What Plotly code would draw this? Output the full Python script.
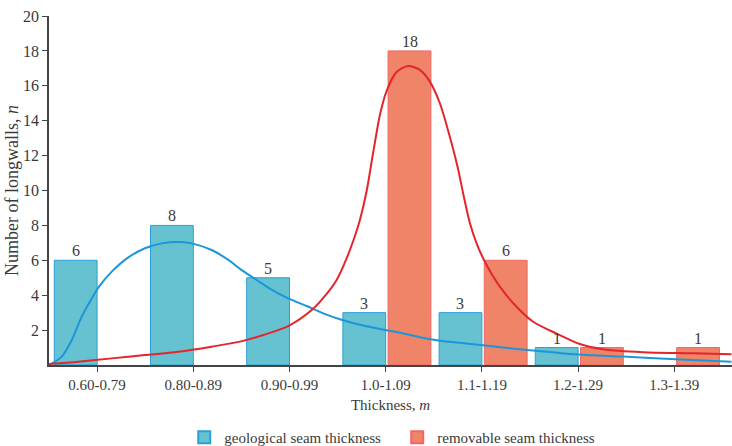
import plotly.graph_objects as go

# Seam thickness classes (m) and number of longwalls in each class
categories = ["0.60-0.79", "0.80-0.89", "0.90-0.99", "1.0-1.09", "1.1-1.19", "1.2-1.29", "1.3-1.39"]
geological_counts = [6, 8, 5, 3, 3, 1, None]
removable_counts = [None, None, None, 18, 6, 1, 1]

# Fitted density curves, sampled along the class axis (class index units)
geo_curve_x = [-0.498, -0.367, -0.263, -0.16, -0.056, 0.02, 0.152, 0.325, 0.498, 0.672, 0.827,
               0.983, 1.19, 1.364, 1.50, 1.659, 1.831, 1.987, 2.178, 2.351, 2.524, 2.698, 2.992,
               3.148, 3.356, 3.564, 3.989, 4.36, 4.71, 5.0, 5.468, 6.015, 6.594]
geo_curve_y = [0.0, 0.48, 1.43, 2.77, 3.81, 4.49, 5.35, 6.17, 6.69, 6.97, 7.05,
               6.97, 6.59, 6.02, 5.45, 4.87, 4.26, 3.82, 3.38, 2.96, 2.62, 2.35, 2.01,
               1.85, 1.59, 1.39, 1.15, 0.92, 0.74, 0.6, 0.48, 0.33, 0.19]

rem_curve_x = [-0.498, -0.195, 0.152, 0.498, 0.844, 1.19, 1.485, 1.727, 1.987, 2.24, 2.386, 2.49,
               2.594, 2.68, 2.732, 2.802, 2.871, 2.94, 3.009, 3.113, 3.234, 3.355, 3.459, 3.563,
               3.667, 3.75, 3.813, 3.875, 3.948, 4.031, 4.187, 4.36, 4.533, 4.776, 5.018, 5.26,
               5.676, 6.195, 6.594]
rem_curve_y = [0.06, 0.19, 0.38, 0.57, 0.76, 1.05, 1.34, 1.72, 2.23, 3.19, 4.07, 4.87,
               6.11, 7.39, 8.31, 9.97, 12.21, 14.33, 15.7, 16.79, 17.13, 16.91, 16.24, 15.0,
               13.08, 11.29, 9.63, 8.14, 6.93, 5.92, 4.49, 3.34, 2.48, 1.8, 1.2, 0.9,
               0.73, 0.67, 0.61]

y_ticks = list(range(2, 21, 2))

SERIF = "Liberation Serif"
TEXT = "#3a3a3a"
BAR_W = 0.445
RED_OFFSET = 0.025

x_idx = list(range(len(categories)))

fig = go.Figure()

fig.add_trace(go.Bar(
    x=x_idx, y=geological_counts, name="geological seam thickness",
    width=BAR_W, offset=-BAR_W,
    marker=dict(color="#66c2d1", line=dict(color="#2a9fd8", width=1)),
))
fig.add_trace(go.Bar(
    x=x_idx, y=removable_counts, name="removable seam thickness",
    width=BAR_W, offset=RED_OFFSET,
    marker=dict(color="#ef8468", line=dict(color="#f06666", width=1)),
))

fig.add_trace(go.Scatter(
    x=geo_curve_x, y=geo_curve_y, mode="lines", showlegend=False,
    line=dict(color="#1b96d9", width=2, shape="spline", smoothing=0.8),
    hoverinfo="skip",
))
fig.add_trace(go.Scatter(
    x=rem_curve_x, y=rem_curve_y, mode="lines", showlegend=False,
    line=dict(color="#e5252b", width=2, shape="spline", smoothing=0.8),
    hoverinfo="skip",
))

# Count labels above each bar
annotations = []
for i, v in enumerate(geological_counts):
    if v is not None:
        annotations.append(dict(x=i - BAR_W / 2, y=v, text=str(v), xref="x", yref="y",
                                xanchor="center", yanchor="bottom", yshift=-1, showarrow=False,
                                font=dict(family=SERIF, size=16, color=TEXT)))
for i, v in enumerate(removable_counts):
    if v is not None:
        annotations.append(dict(x=i + RED_OFFSET + BAR_W / 2, y=v, text=str(v), xref="x", yref="y",
                                xanchor="center", yanchor="bottom", yshift=-1, showarrow=False,
                                font=dict(family=SERIF, size=16, color=TEXT)))

# Rotated y-axis title
annotations.append(dict(
    text="Number of longwalls, <i>n</i>", textangle=-90,
    xref="paper", yref="paper", x=-0.055, y=0.5,
    xanchor="center", yanchor="middle", showarrow=False,
    font=dict(family=SERIF, size=18, color=TEXT),
))

fig.update_layout(
    width=732, height=446,
    margin=dict(l=49, r=0, t=16, b=81, autoexpand=False),
    paper_bgcolor="white", plot_bgcolor="white",
    barmode="overlay",
    font=dict(family=SERIF, size=14, color=TEXT),
    legend=dict(
        orientation="h", x=0.198, xanchor="left", y=-0.208, yanchor="middle",
        font=dict(family=SERIF, size=15, color=TEXT),
        itemsizing="constant", tracegroupgap=0, entrywidth=168,
    ),
    xaxis=dict(
        range=[-0.5, 6.6], tickmode="array", tickvals=x_idx, ticktext=categories,
        showline=True, linecolor="#444", linewidth=1.5,
        ticks="outside", ticklen=5, tickcolor="#444", tickwidth=1,
        showgrid=False, zeroline=False, automargin=False,
        tickfont=dict(family=SERIF, size=15, color=TEXT),
        title=dict(text="Thickness, <i>m</i>", standoff=8,
                   font=dict(family=SERIF, size=15, color=TEXT)),
    ),
    yaxis=dict(
        range=[0, 20], tickmode="array", tickvals=y_ticks,
        showline=True, linecolor="#444", linewidth=1.5,
        ticks="outside", ticklen=5, tickcolor="#444", tickwidth=1,
        showgrid=False, zeroline=False, automargin=False,
        tickfont=dict(family=SERIF, size=16, color=TEXT),
    ),
    annotations=annotations,
)

fig.write_html("out.html")
